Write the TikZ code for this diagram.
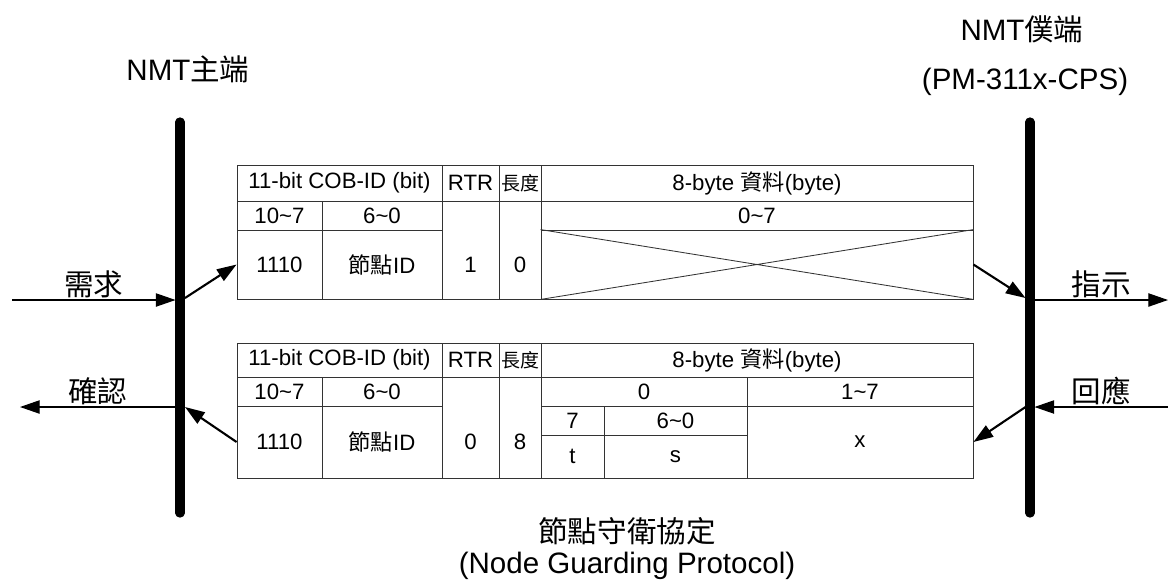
\documentclass[tikz,border=0pt]{standalone}
\usepackage{fontspec}
\setmainfont{Liberation Sans}
\newfontfamily\cjk{Noto Sans CJK TC}
\usetikzlibrary{arrows.meta,fit,calc}

% one table cell: name, corners (px), text
\newcommand{\pktcell}[6]{\node[cell, fit={(#2,#3) (#4,#5)}] (#1) {};
  \node[cellText] (#1t) at (#1.center) {#6};}
\newcommand{\lenhead}{{\fontsize{13.5}{16}\selectfont\cjk 長度}}

\begin{document}
\begin{tikzpicture}[
  x=0.025cm, y=-0.025cm,
  >={Triangle[length=14pt, width=9.5pt]},
  cell/.style={draw=black!80, line width=0.6pt, inner sep=0pt},
  cellText/.style={inner sep=0pt, align=center, font=\fontsize{15.8}{18}\selectfont},
  bar/.style={line width=6.6pt, line cap=round},
  msg/.style={->, line width=0.8pt},
  hop/.style={->, line width=1.5pt},
  title/.style={font=\fontsize{21}{25}\selectfont, align=center},
  msgLabel/.style={font=\fontsize{21}{25}\selectfont, above, inner sep=1pt}
]
\useasboundingbox (0,0) rectangle (1168,580);

\node[title] (master) at (188,69) {NMT{\cjk 主端}};
\node[title] (slave) at (1022,29) {NMT{\cjk 僕端}};
\node[title] (slaveDev) at (1025,82) {(PM-311x-CPS)};
\node[title] (proto) at (627,531) {{\cjk 節點守衛協定}};
\node[title] (protoEn) at (627,566) {(Node Guarding Protocol)};

% master and slave lines
\coordinate (mTop) at (180,122);
\coordinate (mBot) at (180,513);
\coordinate (sTop) at (1030,122);
\coordinate (sBot) at (1030,513);
\draw[bar] (mTop) -- (mBot);
\draw[bar] (sTop) -- (sBot);

% request frame
\pktcell{tid}{237}{165}{442}{201}{11-bit COB-ID (bit)}
\pktcell{trtr}{442}{165}{499}{201}{RTR}
\pktcell{tlen}{499}{165}{541}{201}{\lenhead}
\pktcell{tdata}{541}{165}{973}{201}{8-byte {\cjk 資料}(byte)}
\pktcell{thi}{237}{201}{322}{230}{10\textasciitilde7}
\pktcell{tlo}{322}{201}{442}{230}{6\textasciitilde0}
\pktcell{trtrv}{442}{201}{499}{299}{}
\pktcell{tlenv}{499}{201}{541}{299}{}
\pktcell{tbytes}{541}{201}{973}{230}{0\textasciitilde7}
\pktcell{tfunc}{237}{230}{322}{299}{1110}
\pktcell{tnode}{322}{230}{442}{299}{{\cjk 節點}ID}
\pktcell{tempty}{541}{230}{973}{299}{}
\node[cellText] (trtrvv) at (trtrv |- tfunc) {1};
\node[cellText] (tlenvv) at (tlenv |- tfunc) {0};
\draw[draw=black!80, line width=0.6pt] (tempty.north west) -- (tempty.south east)
  (tempty.south west) -- (tempty.north east);

% response frame
\pktcell{bid}{237}{343}{442}{377}{11-bit COB-ID (bit)}
\pktcell{brtr}{442}{343}{499}{377}{RTR}
\pktcell{blen}{499}{343}{541}{377}{\lenhead}
\pktcell{bdata}{541}{343}{973}{377}{8-byte {\cjk 資料}(byte)}
\pktcell{bhi}{237}{377}{322}{406}{10\textasciitilde7}
\pktcell{blo}{322}{377}{442}{406}{6\textasciitilde0}
\pktcell{brtrv}{442}{377}{499}{478}{}
\pktcell{blenv}{499}{377}{541}{478}{}
\pktcell{bfirst}{541}{377}{747}{406}{0}
\pktcell{brest}{747}{377}{973}{406}{1\textasciitilde7}
\pktcell{bbit}{541}{406}{604}{435}{7}
\pktcell{blow}{604}{406}{747}{435}{6\textasciitilde0}
\pktcell{btog}{541}{435}{604}{478}{t}
\pktcell{bstate}{604}{435}{747}{478}{s}
\pktcell{bx}{747}{406}{973}{478}{x}
\pktcell{bfunc}{237}{406}{322}{478}{1110}
\pktcell{bnode}{322}{406}{442}{478}{{\cjk 節點}ID}
\node[cellText] (brtrvv) at (brtrv |- bfunc) {0};
\node[cellText] (blenvv) at (blenv |- bfunc) {8};

\coordinate (reqIn) at (12,300);
\coordinate (mReq) at (175.5,300);
\coordinate (mOut) at (185,298);
\coordinate (mBack) at (185,407);
\coordinate (mCnf) at (175.5,407);
\coordinate (cnfOut) at (20,407);
\coordinate (sIn) at (1025.5,298);
\coordinate (sInd) at (1034.5,300);
\coordinate (indOut) at (1168,300);
\coordinate (rspIn) at (1168,407);
\coordinate (sRsp) at (1034.5,407);
\coordinate (sOut) at (1025.5,407);

\draw[msg] (reqIn) -- node[msgLabel]{\cjk 需求} (mReq);
\draw[hop] (mOut) -- (tfunc.west);
\draw[hop] (tempty.east) -- (sIn);
\draw[msg] (sInd) -- node[msgLabel]{\cjk 指示} (indOut);
\draw[msg] (rspIn) -- node[msgLabel]{\cjk 回應} (sRsp);
\draw[hop] (sOut) -- (bx.east);
\draw[hop] (bfunc.west) -- (mBack);
\draw[msg] (mCnf) -- node[msgLabel]{\cjk 確認} (cnfOut);
\end{tikzpicture}
\end{document}
